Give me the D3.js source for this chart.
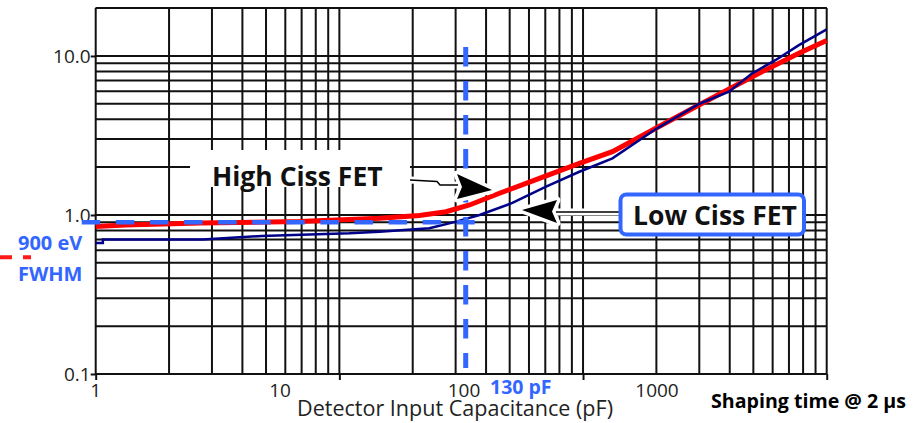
<!DOCTYPE html>
<html>
<head>
<meta charset="utf-8">
<script src="https://cdn.jsdelivr.net/npm/d3@7"></script>
<style>
  body { margin: 0; background: #fff; }
  svg { display: block; }
</style>
</head>
<body>
<svg id="chart" width="922" height="423"></svg>
<script>
// values
var capHigh  = [1, 1.32, 2.68, 6.88, 14.6, 21.3, 27.4, 34.2, 45.4, 66.2, 96.6, 132, 199, 299, 495, 769, 1000];
var fwhmHigh = [0.847, 0.865, 0.891, 0.910, 0.953, 0.993, 1.049, 1.156, 1.369, 1.70, 2.11, 2.50, 3.51, 4.92, 7.41, 10.4, 12.5];
var capLow   = [1, 1.07, 1.07, 2.75, 4.8, 11.0, 14.6, 23.4, 30.2, 37.6, 51.3, 70.5, 96.6, 132, 199, 299, 397, 495, 618, 769, 1000];
var fwhmLow  = [0.667, 0.667, 0.701, 0.701, 0.738, 0.767, 0.785, 0.825, 0.908, 1.0, 1.19, 1.51, 1.87, 2.27, 3.47, 4.99, 5.96, 7.78, 9.44, 11.7, 14.7];

var xTicks = [1, 10, 100, 1000];
var xTickLabels = ["1", "10", "100", "1000"];
var yTicks = [0.1, 1, 10];
var yTickLabels = ["0.1", "1.0", "10.0"];

var markerCap = 33;        // where the dashed marker sits on the grid
var markerLabel = "130 pF";
var refFwhm = 0.9;
var refLabel = ["900 eV", "FWHM"];

var blue = "#3366ff";
var svg = d3.select("#chart");

var x = d3.scaleLog().domain([1, 1000]).range([95.7, 826.7]);
var y = d3.scaleLog().domain([0.1, 20]).range([374, 8.1]);
// tick labels in the picture do not sit on the grid decades
var xLab = d3.scaleLog().domain([1, 10, 100, 1000]).range([95.7, 280, 464, 657]);

var root = svg.append("g");

// grid
var grid = root.append("g").attr("stroke", "#111").attr("stroke-width", 2);
grid.selectAll(".vx").data(x.ticks()).enter().append("line")
  .attr("x1", function(d){ return x(d); }).attr("x2", function(d){ return x(d); })
  .attr("y1", y(20)).attr("y2", y(0.1));
grid.selectAll(".hy").data(y.ticks().concat([20])).enter().append("line")
  .attr("x1", x(1)).attr("x2", x(1000))
  .attr("y1", function(d){ return y(d); }).attr("y2", function(d){ return y(d); });

// axes: ticks only
var xAxis = d3.axisBottom(x).tickValues(xTicks).tickFormat("").tickSize(6);
var yAxis = d3.axisLeft(y).tickValues(yTicks)
  .tickFormat(function(d, i){ return yTickLabels[i]; }).tickSize(5).tickPadding(0);

var gx = root.append("g").attr("transform", "translate(0," + y(0.1) + ")").call(xAxis);
var gy = root.append("g").attr("transform", "translate(" + x(1) + ",0)").call(yAxis);
[gx, gy].forEach(function(g){
  g.select(".domain").remove();
  g.selectAll("line").attr("stroke", "#111").attr("stroke-width", 2);
});
gy.selectAll("text").attr("font-family", "Open Sans").attr("font-size", 19).attr("fill", "#222");

root.selectAll(".xl").data(xTicks).enter().append("text")
  .attr("x", function(d){ return xLab(d); }).attr("y", 397)
  .attr("text-anchor", "middle").attr("font-family", "Open Sans").attr("font-size", 19).attr("fill", "#222")
  .text(function(d, i){ return xTickLabels[i]; });

root.append("text").attr("x", 455).attr("y", 416).attr("text-anchor", "middle")
  .attr("font-family", "Open Sans").attr("font-size", 21).attr("fill", "#222")
  .attr("textLength", 316).attr("lengthAdjust", "spacingAndGlyphs")
  .text("Detector Input Capacitance (pF)");

root.append("text").attr("x", 808.5).attr("y", 408).attr("text-anchor", "middle")
  .attr("font-family", "Open Sans").attr("font-weight", "bold").attr("font-size", 19.6).attr("fill", "#000")
  .text("Shaping time @ 2 \u00b5s");

// curves
var line = d3.line().x(function(d){ return x(d[0]); }).y(function(d){ return y(d[1]); });
root.append("path").datum(d3.zip(capHigh, fwhmHigh)).attr("d", line)
  .attr("fill", "none").attr("stroke", "#ff0000").attr("stroke-width", 5);
root.append("path").datum(d3.zip(capLow, fwhmLow)).attr("d", line)
  .attr("fill", "none").attr("stroke", "#000088").attr("stroke-width", 2.5);

// reference dashes
root.append("line").attr("x1", x(1) - 14).attr("x2", x(markerCap) + 9)
  .attr("y1", y(refFwhm)).attr("y2", y(refFwhm))
  .attr("stroke", blue).attr("stroke-width", 4.5).attr("stroke-dasharray", "18.5,15.6");
root.append("line").attr("x1", x(markerCap)).attr("x2", x(markerCap))
  .attr("y1", y(11.4)).attr("y2", y(0.109))
  .attr("stroke", blue).attr("stroke-width", 5).attr("stroke-dasharray", "19.5,14.5");
root.append("line").attr("x1", 0).attr("x2", 31).attr("y1", 257.3).attr("y2", 257.3)
  .attr("stroke", "#ff1a1a").attr("stroke-width", 4).attr("stroke-dasharray", "12,11");

root.append("text").attr("x", 490).attr("y", 394)
  .attr("font-family", "Open Sans").attr("font-weight", "bold").attr("font-size", 19.5).attr("fill", blue)
  .text(markerLabel);
root.selectAll(".rl").data(refLabel).enter().append("text")
  .attr("x", 18).attr("y", function(d, i){ return 250 + i * 31; })
  .attr("font-family", "Open Sans").attr("font-weight", "bold").attr("font-size", 20).attr("fill", blue)
  .text(function(d){ return d; });

// annotations
function arrow(pts, head){
  var g = root.append("g");
  g.append("path").attr("d", d3.line()(pts)).attr("fill", "none").attr("stroke", "#fff").attr("stroke-width", 7);
  g.append("path").attr("d", d3.line()(head) + "Z").attr("fill", "#fff").attr("stroke", "#fff").attr("stroke-width", 7).attr("stroke-linejoin", "round");
  g.append("path").attr("d", d3.line()(pts)).attr("fill", "none").attr("stroke", "#000").attr("stroke-width", 1.5);
  g.append("path").attr("d", d3.line()(head) + "Z").attr("fill", "#000");
}

root.append("rect").attr("x", 190).attr("y", 150).attr("width", 220).attr("height", 37).attr("fill", "#fff");
arrow([[410, 180], [437, 181.5], [440, 185], [458, 185]], [[457, 174], [492, 190], [457, 199], [462, 187]]);
root.append("text").attr("x", 212).attr("y", 185.5)
  .attr("font-family", "Open Sans").attr("font-weight", "bold").attr("font-size", 26.5).attr("fill", "#111")
  .text("High Ciss FET");

arrow([[556, 212], [620, 212]], [[522, 210], [557, 200], [552, 211.5], [557, 223]]);
root.append("rect").attr("x", 620.5).attr("y", 194.5).attr("width", 183.5).attr("height", 40).attr("rx", 6)
  .attr("fill", "#fff").attr("stroke", blue).attr("stroke-width", 4);
root.append("text").attr("x", 633).attr("y", 225)
  .attr("font-family", "Open Sans").attr("font-weight", "bold").attr("font-size", 26.5).attr("fill", "#111")
  .text("Low Ciss FET");
</script>
</body>
</html>
